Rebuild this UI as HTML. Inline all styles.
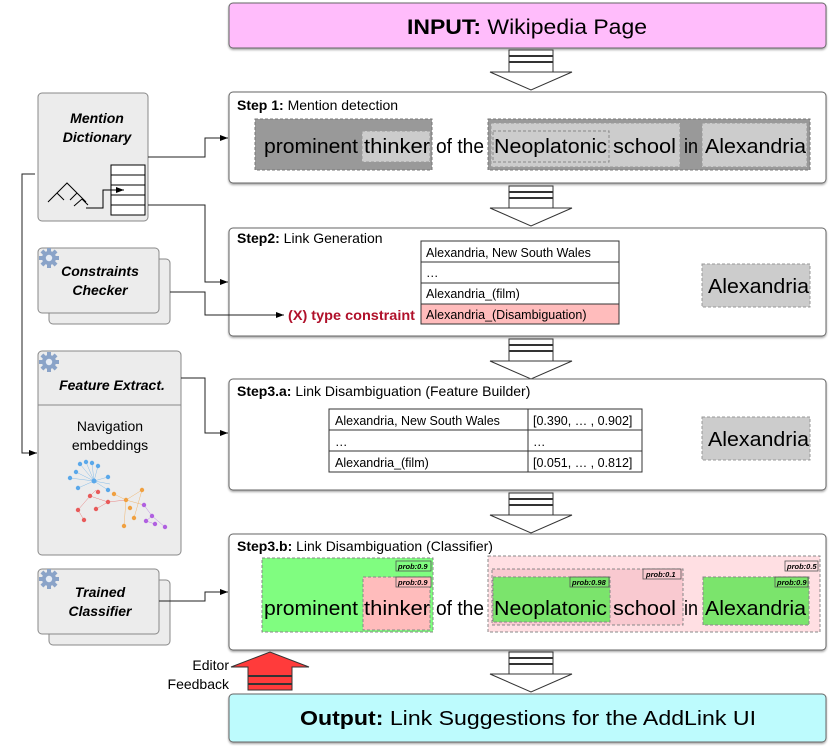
<!DOCTYPE html>
<html><head><meta charset="utf-8"><style>
html,body{margin:0;padding:0;background:#fff;}
svg{display:block;font-family:"Liberation Sans",sans-serif;}
</style></head><body>
<svg width="830" height="746" viewBox="0 0 830 746" xmlns="http://www.w3.org/2000/svg">
<defs>
<marker id="ah" markerWidth="8" markerHeight="6" refX="8" refY="3" orient="auto" markerUnits="userSpaceOnUse"><path d="M0,0 L8,3 L0,6 z" fill="#000"/></marker>
<filter id="sh" x="-5%" y="-5%" width="110%" height="120%"><feDropShadow dx="0" dy="1.5" stdDeviation="1" flood-color="#000" flood-opacity="0.35"/></filter>
<g id="gear"><circle cx="0" cy="0" r="7" fill="#8aa3c8"/><g fill="#8aa3c8"><rect x="-2" y="-10" width="4" height="20"/><rect x="-10" y="-2" width="20" height="4"/><rect x="-2" y="-10" width="4" height="20" transform="rotate(45)"/><rect x="-2" y="-10" width="4" height="20" transform="rotate(-45)"/></g><circle cx="0" cy="0" r="3.2" fill="#e6ecf5"/></g>
<g id="darr"><rect x="509" y="0" width="44" height="22" fill="#fff" stroke="#333" stroke-width="1"/><line x1="509" y1="6" x2="553" y2="6" stroke="#333" stroke-width="2"/><line x1="509" y1="12" x2="553" y2="12" stroke="#333" stroke-width="2"/><path d="M490,22 L572,22 L531,40 z" fill="#fff" stroke="#333" stroke-width="1"/></g>
<g id="sent" font-size="20" lengthAdjust="spacingAndGlyphs">
<text x="264" textLength="94" lengthAdjust="spacingAndGlyphs">prominent</text><text x="364" textLength="66" lengthAdjust="spacingAndGlyphs">thinker</text><text x="436" textLength="48" lengthAdjust="spacingAndGlyphs">of the</text><text x="494" textLength="113" lengthAdjust="spacingAndGlyphs">Neoplatonic</text><text x="613" textLength="63" lengthAdjust="spacingAndGlyphs">school</text><text x="684" textLength="14" lengthAdjust="spacingAndGlyphs">in</text><text x="705" textLength="101" lengthAdjust="spacingAndGlyphs">Alexandria</text>
</g>
</defs>

<!-- Input -->
<rect x="229" y="3" width="597" height="45" rx="4" fill="#ffbcfb" stroke="#666" filter="url(#sh)"/>
<text x="407" y="34" font-size="21" textLength="240" lengthAdjust="spacingAndGlyphs"><tspan font-weight="bold">INPUT:</tspan> Wikipedia Page</text>

<use href="#darr" y="50"/>
<use href="#darr" y="186"/>
<use href="#darr" y="339"/>
<use href="#darr" y="493"/>
<use href="#darr" y="652"/>

<!-- Step 1 -->
<rect x="229" y="92" width="597" height="91" rx="4" fill="#fff" stroke="#666" filter="url(#sh)"/>
<text x="237" y="110" font-size="14"><tspan font-weight="bold">Step 1:</tspan> Mention detection</text>
<rect x="255" y="119" width="177" height="51" fill="#999" stroke="#777" stroke-dasharray="3,2"/>
<rect x="362" y="131" width="68" height="31" fill="#ccc" stroke="#999" stroke-dasharray="3,2"/>
<rect x="488" y="119" width="322" height="51" fill="#999" stroke="#777" stroke-dasharray="3,2"/>
<rect x="491" y="123" width="189" height="44" fill="#ccc" stroke="#999" stroke-dasharray="3,2"/>
<rect x="493" y="131" width="116" height="31" fill="#ccc" stroke="#888" stroke-dasharray="3,2"/>
<rect x="702" y="123" width="105" height="44" fill="#ccc" stroke="#999" stroke-dasharray="3,2"/>
<use href="#sent" y="153"/>

<!-- Step 2 -->
<rect x="229" y="228" width="597" height="108" rx="4" fill="#fff" stroke="#666" filter="url(#sh)"/>
<text x="237" y="243" font-size="14"><tspan font-weight="bold">Step2:</tspan> Link Generation</text>
<rect x="421" y="241" width="198" height="21" fill="#fff" stroke="#333"/>
<rect x="421" y="262" width="198" height="21" fill="#fff" stroke="#333"/>
<rect x="421" y="283" width="198" height="21" fill="#fff" stroke="#333"/>
<rect x="421" y="304" width="198" height="20" fill="#ffbcbc" stroke="#333"/>
<text x="426" y="257" font-size="12.5">Alexandria, New South Wales</text>
<text x="426" y="277" font-size="12.5">…</text>
<text x="426" y="298" font-size="12.5">Alexandria_(film)</text>
<text x="426" y="319" font-size="12.5">Alexandria_(Disambiguation)</text>
<text x="288" y="320" font-size="13.5" font-weight="bold" fill="#b0102a" textLength="127" lengthAdjust="spacingAndGlyphs">(X) type constraint</text>
<rect x="702" y="264" width="108" height="43" fill="#ccc" stroke="#999" stroke-dasharray="3,2"/>
<text x="708" y="293" font-size="20" textLength="101" lengthAdjust="spacingAndGlyphs">Alexandria</text>

<!-- Step 3a -->
<rect x="229" y="379" width="597" height="111" rx="4" fill="#fff" stroke="#666" filter="url(#sh)"/>
<text x="237" y="396" font-size="14"><tspan font-weight="bold">Step3.a:</tspan> Link Disambiguation (Feature Builder)</text>
<g fill="#fff" stroke="#333"><rect x="329" y="409" width="199" height="21"/><rect x="528" y="409" width="114" height="21"/><rect x="329" y="430" width="199" height="21"/><rect x="528" y="430" width="114" height="21"/><rect x="329" y="451" width="199" height="21"/><rect x="528" y="451" width="114" height="21"/></g>
<g font-size="12.5"><text x="335" y="425">Alexandria, New South Wales</text><text x="533" y="425">[0.390, … , 0.902]</text><text x="335" y="446">…</text><text x="533" y="446">…</text><text x="335" y="467">Alexandria_(film)</text><text x="533" y="467">[0.051, … , 0.812]</text></g>
<rect x="702" y="417" width="108" height="43" fill="#ccc" stroke="#999" stroke-dasharray="3,2"/>
<text x="708" y="446" font-size="20" textLength="101" lengthAdjust="spacingAndGlyphs">Alexandria</text>

<!-- Step 3b -->
<rect x="229" y="534" width="597" height="116" rx="4" fill="#fff" stroke="#666" filter="url(#sh)"/>
<text x="237" y="551" font-size="14"><tspan font-weight="bold">Step3.b:</tspan> Link Disambiguation (Classifier)</text>
<rect x="262" y="558" width="171" height="74" fill="#80fd80" stroke="#888" stroke-dasharray="3,2"/>
<rect x="363" y="577" width="67" height="53" fill="#ffbcbc" stroke="#888" stroke-dasharray="3,2"/>
<rect x="488" y="556" width="332" height="76" fill="#ffdfe3" stroke="#888" stroke-dasharray="3,2"/>
<rect x="492" y="569" width="191" height="56" fill="#f9c9d0" stroke="#888" stroke-dasharray="3,2"/>
<rect x="493" y="577" width="117" height="45" fill="#7be46c" stroke="#888" stroke-dasharray="3,2"/>
<rect x="703" y="577" width="106" height="48" fill="#7be46c" stroke="#888" stroke-dasharray="3,2"/>
<g stroke="#555" stroke-width="0.8">
<rect x="396" y="561" width="35" height="10" fill="#80fd80"/><rect x="396" y="577" width="35" height="10" fill="#ffbcbc"/>
<rect x="570" y="577" width="39" height="10" fill="#7be46c"/><rect x="643" y="569" width="38" height="10" fill="#f9c9d0"/>
<rect x="785" y="561" width="33" height="10" fill="#ffdfe3"/><rect x="775" y="577" width="33" height="10" fill="#7be46c"/>
</g>
<g font-size="7.5" font-weight="bold" font-style="italic">
<text x="398" y="569">prob:0.9</text><text x="398" y="585">prob:0.9</text><text x="572" y="585">prob:0.98</text><text x="646" y="577">prob:0.1</text><text x="787" y="569">prob:0.5</text><text x="777" y="585">prob:0.9</text>
</g>
<use href="#sent" y="615"/>

<!-- Output -->
<rect x="229" y="694" width="597" height="48" rx="4" fill="#bdfbfd" stroke="#666" filter="url(#sh)"/>
<text x="300" y="725" font-size="20" textLength="456" lengthAdjust="spacingAndGlyphs"><tspan font-weight="bold">Output:</tspan> Link Suggestions for the AddLink UI</text>

<!-- red arrow -->
<path d="M248,690 L248,667 L231,667 L270,652 L309,667 L292,667 L292,690 z" fill="#ff3b3b" stroke="#333" stroke-width="1"/>
<line x1="248" y1="676" x2="292" y2="676" stroke="#333" stroke-width="2"/>
<line x1="248" y1="684" x2="292" y2="684" stroke="#333" stroke-width="2"/>
<text x="229" y="670" font-size="14" text-anchor="end">Editor</text>
<text x="229" y="689" font-size="14" text-anchor="end">Feedback</text>

<!-- Left components -->
<rect x="38" y="93" width="110" height="128" rx="4" fill="#ececec" stroke="#888"/>
<text x="97" y="123" font-size="14" font-weight="bold" font-style="italic" text-anchor="middle">Mention</text>
<text x="97" y="142" font-size="14" font-weight="bold" font-style="italic" text-anchor="middle">Dictionary</text>
<g fill="#fff" stroke="#000" stroke-width="1"><rect x="111" y="165" width="34" height="10"/><rect x="111" y="175" width="34" height="10"/><rect x="111" y="185" width="34" height="10"/><rect x="111" y="195" width="34" height="10"/><rect x="111" y="205" width="34" height="10"/></g>
<path d="M48,202 L67,183 L86,202 M57,193 L64,200 M77,193 L70,200 M74,206 L82,199 M82,199 L88,205" fill="none" stroke="#000"/>
<path d="M86,208 L103,208 L103,190 L124,190" fill="none" stroke="#000" marker-end="url(#ah)"/>

<rect x="49" y="259" width="121" height="65" rx="4" fill="#ececec" stroke="#888"/>
<rect x="38" y="248" width="121" height="65" rx="4" fill="#ececec" stroke="#888"/>
<use href="#gear" x="49" y="258"/>
<text x="100" y="276" font-size="14" font-weight="bold" font-style="italic" text-anchor="middle">Constraints</text>
<text x="100" y="295" font-size="14" font-weight="bold" font-style="italic" text-anchor="middle">Checker</text>

<rect x="38" y="351" width="143" height="204" rx="4" fill="#ececec" stroke="#888"/>
<line x1="38" y1="405" x2="181" y2="405" stroke="#888"/>
<use href="#gear" x="49" y="362"/>
<text x="112" y="390" font-size="14" font-weight="bold" font-style="italic" text-anchor="middle">Feature Extract.</text>
<text x="110" y="431" font-size="14" text-anchor="middle">Navigation</text>
<text x="110" y="450" font-size="14" text-anchor="middle">embeddings</text>
<g stroke-width="0.5" opacity="0.8">
<g stroke="#6ab0e8"><path d="M94,481 L80,464 M94,481 L86,462 M94,481 L92,463 M94,481 L98,466 M94,481 L70,478 M94,481 L76,472 M94,481 L78,488 M94,481 L108,477 M94,481 L108,490 M94,481 L110,484"/></g>
<g stroke="#e86a6a"><path d="M90,496 L78,510 M90,496 L108,502 M108,502 L126,500 M78,510 L84,520 M90,496 L96,490 M108,502 L96,509"/></g>
<g stroke="#f0a850"><path d="M126,500 L142,490 M126,500 L144,505 M126,500 L124,526 M126,500 L114,494 M142,490 L134,518"/></g>
<g stroke="#b070e0"><path d="M144,505 L152,516 M152,516 L165,527 M152,516 L146,521 M146,521 L155,524"/></g>
</g>
<g fill="#5aa8ea"><circle cx="94" cy="481" r="2.5"/><circle cx="80" cy="464" r="2.2"/><circle cx="86" cy="462" r="2.2"/><circle cx="92" cy="463" r="2.2"/><circle cx="98" cy="466" r="2.2"/><circle cx="70" cy="478" r="2.2"/><circle cx="76" cy="472" r="2.2"/><circle cx="78" cy="488" r="2.2"/><circle cx="108" cy="477" r="2.2"/><circle cx="108" cy="490" r="2.2"/></g>
<g fill="#e85a5a"><circle cx="90" cy="496" r="2.2"/><circle cx="78" cy="510" r="2.2"/><circle cx="108" cy="502" r="2.2"/><circle cx="84" cy="520" r="2.2"/><circle cx="96" cy="509" r="2.2"/><circle cx="98" cy="492" r="2.2"/></g>
<g fill="#f0a040"><circle cx="126" cy="500" r="2.2"/><circle cx="142" cy="490" r="2.2"/><circle cx="114" cy="494" r="2.2"/><circle cx="124" cy="526" r="2.2"/><circle cx="134" cy="518" r="2.2"/><circle cx="130" cy="508" r="2.2"/></g>
<g fill="#b060e0"><circle cx="144" cy="505" r="2.2"/><circle cx="152" cy="516" r="2.2"/><circle cx="146" cy="521" r="2.2"/><circle cx="155" cy="524" r="2.2"/><circle cx="165" cy="527" r="2.2"/></g>

<rect x="49" y="580" width="121" height="65" rx="4" fill="#ececec" stroke="#888"/>
<rect x="38" y="569" width="121" height="65" rx="4" fill="#ececec" stroke="#888"/>
<use href="#gear" x="49" y="579"/>
<text x="100" y="597" font-size="14" font-weight="bold" font-style="italic" text-anchor="middle">Trained</text>
<text x="100" y="616" font-size="14" font-weight="bold" font-style="italic" text-anchor="middle">Classifier</text>

<!-- connectors -->
<g fill="none" stroke="#222" stroke-width="1">
<path d="M148,157 L205,157 L205,138 L228,138" marker-end="url(#ah)"/>
<path d="M148,205 L205,205 L205,282 L228,282" marker-end="url(#ah)"/>
<path d="M170,292 L205,292 L205,315 L284,315" marker-end="url(#ah)"/>
<path d="M181,378 L205,378 L205,433 L228,433" marker-end="url(#ah)"/>
<path d="M159,601 L205,601 L205,592 L228,592" marker-end="url(#ah)"/>
<path d="M35,174 L22,174 L22,453 L37,453" marker-end="url(#ah)"/>
</g>
</svg>
</body></html>
